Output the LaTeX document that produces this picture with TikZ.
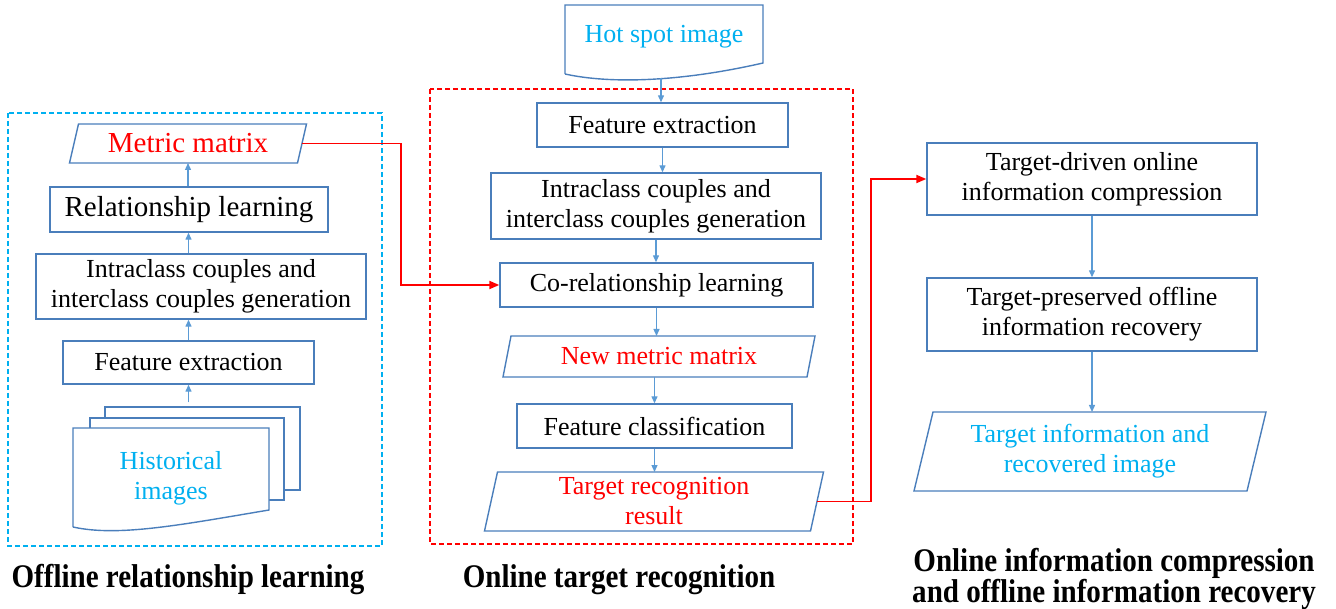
\documentclass[tikz,border=0pt]{standalone}
\usepackage{fontspec}
\setmainfont{Liberation Serif}
\newfontfamily\labfont[FakeStretch=0.88]{Liberation Serif}
\usetikzlibrary{arrows.meta}
\definecolor{boxc}{HTML}{4A7EBB}
\definecolor{arrc}{HTML}{5B9BD5}
\definecolor{cyanT}{HTML}{00B0F0}
\definecolor{redT}{HTML}{FF0000}
\tikzset{
  box/.style={draw=boxc, line width=1.4pt, rectangle, inner sep=2pt, align=center,
    font=\fontsize{26}{30}\selectfont},
  bigtxt/.style={font=\fontsize{29}{33}\selectfont},
  lbl/.style={draw=none, inner sep=0pt, outer sep=0pt, align=center,
    font=\fontsize{26}{30}\selectfont},
  shapeline/.style={draw=boxc, line width=1.4pt},
  barrow/.style={draw=arrc, line width=1.3pt, -{Triangle[length=7pt,width=6pt]}},
  rarrow/.style={draw=redT, line width=1.9pt, -{Triangle[length=10pt,width=8pt]}},
  grp/.style={dash pattern=on 5pt off 3pt, line width=1.6pt},
  grouptitle/.style={align=center, inner sep=0pt,
    font=\labfont\bfseries\fontsize{33}{27}\selectfont}
}
\begin{document}
\begin{tikzpicture}[x=1pt,y=-1pt]
\useasboundingbox (0,0) rectangle (1336,609);

% ---------- group frames ----------
\draw[grp, draw=cyanT] (8,113) rectangle (382,546);
\draw[grp, draw=redT] (430,89) rectangle (853,544);

% ---------- left column ----------
\node[lbl, bigtxt, text=redT, minimum width=228pt, minimum height=39pt] (mm) at (188,143.5) {Metric matrix};
\draw[shapeline] ([xshift=-4.5pt]mm.south west) -- ([xshift=4.5pt]mm.north west)
  -- ([xshift=4.5pt]mm.north east) -- ([xshift=-4.5pt]mm.south east) -- cycle;
\node[box, bigtxt, minimum width=278pt, minimum height=45pt] (rel) at (189,209.5) {Relationship learning};
\node[box, minimum width=330pt, minimum height=65pt] (int1) at (201,286.5) {Intraclass couples and\\interclass couples generation};
\node[box, minimum width=251pt, minimum height=43pt] (fe1) at (188.5,362.5) {Feature extraction};

% stacked documents
\node[draw=boxc, line width=1.4pt, fill=white, inner sep=0pt, minimum width=195pt, minimum height=83pt] (hback) at (202.5,448.5) {};
\draw[shapeline, fill=white] (90,418) rectangle (284,500);
\draw[shapeline, fill=white] (73,527) -- (73,428) -- (269,428) -- (269,510)
  .. controls (180,525) and (118,537) .. (73,527);
\node[lbl, text=cyanT] (hist) at (171,478) {Historical\\images};

\draw[barrow] (hback.north -| fe1.south) ++(0,-4) -- (fe1.south);
\draw[barrow] (fe1.north) -- (fe1.north |- int1.south);
\draw[barrow] (fe1.north |- int1.north) -- (fe1.north |- rel.south);
\draw[barrow] (rel.north -| mm.south) -- (mm.south);

% ---------- middle column ----------
\draw[shapeline, fill=white] (565,74) -- (565,5) -- (763,5) -- (763,63)
  .. controls (680,82) and (610,84) .. (565,74);
\node[lbl, text=cyanT] (hs) at (664,37) {Hot spot image};
\coordinate (hsb) at (661,78);

\node[box, minimum width=251pt, minimum height=44pt] (fe2) at (662.5,125) {Feature extraction};
\node[box, minimum width=330pt, minimum height=66pt] (int2) at (656,206) {Intraclass couples and\\interclass couples generation};
\node[box, minimum width=313pt, minimum height=44pt] (co) at (656.5,285) {Co-relationship learning};
\node[lbl, text=redT, minimum width=304pt, minimum height=41pt] (nm) at (659,356.5) {New metric matrix};
\draw[shapeline] ([xshift=-4pt]nm.south west) -- ([xshift=4pt]nm.north west)
  -- ([xshift=4pt]nm.north east) -- ([xshift=-4pt]nm.south east) -- cycle;
\node[box, minimum width=275pt, minimum height=44pt] (fc) at (654.5,426) {Feature classification};
\node[lbl, text=redT, minimum width=326pt, minimum height=59pt] (trr) at (654,501.5) {Target recognition\\result};
\draw[shapeline] ([xshift=-6.5pt]trr.south west) -- ([xshift=6.5pt]trr.north west)
  -- ([xshift=6.5pt]trr.north east) -- ([xshift=-6.5pt]trr.south east) -- cycle;

\draw[barrow] (hsb) -- (hsb |- fe2.north);
\draw[barrow] (fe2.south) -- (fe2.south |- int2.north);
\draw[barrow] (int2.south) -- (int2.south |- co.north);
\draw[barrow] (co.south) -- (co.south |- nm.north);
\draw[barrow] (nm.south -| fc.north) -- (fc.north);
\draw[barrow] (fc.south) -- (fc.south |- trr.north);

% ---------- right column ----------
\node[box, minimum width=330pt, minimum height=72pt] (td) at (1092,179) {Target-driven online\\information compression};
\node[box, minimum width=330pt, minimum height=73pt] (tp) at (1092,314.5) {Target-preserved offline\\information recovery};
\node[lbl, text=cyanT, minimum width=333pt, minimum height=79pt] (ti) at (1090,451.5) {Target information and\\recovered image};
\draw[shapeline] ([xshift=-9.5pt]ti.south west) -- ([xshift=9.5pt]ti.north west)
  -- ([xshift=9.5pt]ti.north east) -- ([xshift=-9.5pt]ti.south east) -- cycle;

\draw[barrow] (td.south) -- (td.south |- tp.north);
\draw[barrow] (tp.south) -- (tp.south |- ti.north);

% ---------- red connectors ----------
\coordinate (r1) at (401,0);
\coordinate (r2) at (871,0);
\draw[rarrow] (mm.east) -| (r1 |- co.west) -- (co.west);
\draw[rarrow] (trr.east) -| (r2 |- td.west) -- (td.west);

% ---------- titles ----------
\node[grouptitle] (t1) at (188,580) {Offline relationship learning};
\node[grouptitle] (t2) at (619,580) {Online target recognition};
\node[grouptitle] (t3) at (1114,579) {Online information compression\\and offline information recovery};
\end{tikzpicture}
\end{document}
